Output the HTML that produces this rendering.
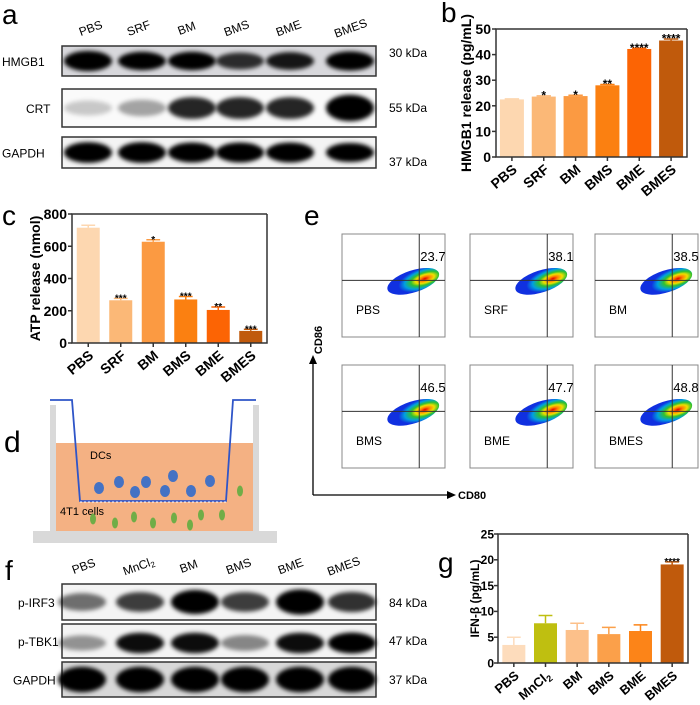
<!DOCTYPE html>
<html><head><meta charset="utf-8"><style>
html,body{margin:0;padding:0;background:#fff}
svg{display:block;font-family:"Liberation Sans",Arial,sans-serif}
</style></head><body>
<svg id="fig" width="700" height="705" viewBox="0 0 700 705" xmlns="http://www.w3.org/2000/svg">
<defs>
<filter id="bl" x="-30%" y="-60%" width="160%" height="220%"><feGaussianBlur stdDeviation="2.2"/></filter>
<radialGradient id="blob" cx="0.72" cy="0.55" r="0.6">
<stop offset="0" stop-color="#e00000"/><stop offset="0.15" stop-color="#ff8000"/><stop offset="0.3" stop-color="#f0e000"/><stop offset="0.45" stop-color="#30c030"/><stop offset="0.65" stop-color="#00a0e0"/><stop offset="0.85" stop-color="#1030e0"/><stop offset="1" stop-color="#1030e0"/>
</radialGradient>
</defs>
<g id="pa"></g>
<g id="pf"></g>
<g id="pb"></g>
<g id="pc"></g>
<g id="pg"></g>
<g id="pe"></g>
<g id="pd">
<text x="4" y="452" font-size="30">d</text>
<rect x="50" y="405" width="6" height="127" fill="#d9d9d9"/>
<rect x="253" y="405" width="6" height="127" fill="#d9d9d9"/>
<rect x="33" y="531" width="244" height="12" fill="#d9d9d9"/>
<rect x="56" y="443" width="197" height="88" fill="#f4b183"/>
<polyline points="50,400 72,400 80,501 226,501 233,400 256,400" fill="none" stroke="#2f55c8" stroke-width="1.8"/>
<line x1="80" y1="502" x2="226" y2="502" stroke="#fff" stroke-width="1" stroke-dasharray="2,2"/>
<text x="90" y="459" font-size="11">DCs</text>
<text x="60" y="515" font-size="11">4T1 cells</text>
</g>
</svg>
<script>
var NS="http://www.w3.org/2000/svg";
function mk(p,t,a,txt){var e=document.createElementNS(NS,t);for(var k in a)e.setAttribute(k,a[k]);if(txt!==undefined)e.textContent=txt;p.appendChild(e);return e;}

var bCats=["PBS","SRF","BM","BMS","BME","BMES"];
var bVals=[22.5,23.6,23.8,28.0,42.2,45.5];
var bErr=[0.2,0.3,0.3,0.3,0.3,0.6];
var bSig=["","*","*","**","****","****"];
var bTicks=[0,10,20,30,40,50];

var cCats=["PBS","SRF","BM","BMS","BME","BMES"];
var cVals=[715,265,628,270,205,75];
var cErr=[15,12,12,18,18,10];
var cSig=["","***","*","***","**","***"];
var cTicks=[0,200,400,600,800];

var gCats=["PBS","MnCl2","BM","BMS","BME","BMES"];
var gVals=[3.5,7.7,6.4,5.6,6.2,19.1];
var gErr=[1.5,1.5,1.3,1.3,1.2,0.5];
var gSig=["","","","","","****"];
var gTicks=[0,5,10,15,20,25];

var flowLabels=["PBS","SRF","BM","BMS","BME","BMES"];
var flowVals=["23.7","38.1","38.5","46.5","47.7","48.8"];

function bars(gid,cfg){
  var g=document.getElementById(gid);
  var x0=cfg.x0,x1=cfg.x1,y0=cfg.y0,y1=cfg.y1,max=cfg.max;
  function ys(v){return y0-(v/max)*(y0-y1);}
  var n=cfg.cats.length,step=(x1-x0)/n;
  function xs(i){return x0+step*(i+0.5);}
  for(var i=0;i<n;i++){
    var v=cfg.vals[i],cx=xs(i),w=cfg.bw;
    var r=mk(g,"rect",{x:cx-w/2,y:ys(v),width:w,height:y0-ys(v),fill:cfg.colors[i]});
    
    
    var ey=ys(v+cfg.err[i]);
    var e=mk(g,"path",{d:"M"+cx+" "+ys(v)+"V"+ey+"M"+(cx-w*0.3)+" "+ey+"H"+(cx+w*0.3),stroke:cfg.colors[i],"stroke-width":1.5,fill:"none"});
    
    
    if(cfg.sig[i]){var s=mk(g,"text",{x:cx,y:ey+cfg.sigSize*0.3,"text-anchor":"middle","font-size":cfg.sigSize,"font-weight":"bold"},cfg.sig[i]);
      
      }
    var tk=mk(g,"line",{x1:cx,x2:cx,y1:y0,y2:y0+4,stroke:"#333","stroke-width":1.5});
    
    
    var lx=cx+6,ly=y0+14;
    var lb=mk(g,"text",{x:lx,y:ly,"text-anchor":"end","font-size":cfg.lab,"font-weight":"bold",transform:"rotate(-40 "+lx+" "+ly+")"});
    
    
    if(cfg.cats[i]=="MnCl2"){lb.textContent="MnCl";mk(lb,"tspan",{"font-size":cfg.lab*0.7,dy:3},"2");}
    else lb.textContent=cfg.cats[i];
  }
  var ax=mk(g,"path",{d:"M"+x1+" "+y1+"H"+x0+"V"+y0+"H"+x1+"V"+y1,fill:"none",stroke:"#333","stroke-width":1.5});
  
  
  cfg.ticks.forEach(function(t){
    var l=mk(g,"line",{x1:x0-4,x2:x0,y1:ys(t),y2:ys(t),stroke:"#333","stroke-width":1.5});
    
    
    var tt=mk(g,"text",{x:x0-cfg.tgap,y:ys(t)+cfg.tick*0.36,"text-anchor":"end","font-size":cfg.tick,"font-weight":"bold"},String(t));
    
    
  });
  var yl=mk(g,"text",{x:cfg.ylx,y:(y0+y1)/2,"text-anchor":"middle","font-size":cfg.ylSize,"font-weight":"bold",transform:"rotate(-90 "+cfg.ylx+" "+((y0+y1)/2)+")"},cfg.ylab);
  
  
  var pl=mk(g,"text",{x:cfg.plx,y:cfg.ply,"font-size":28},cfg.pl);
  
  
}
bars("pb",{cats:bCats,vals:bVals,err:bErr,sig:bSig,ticks:bTicks,max:50,x0:496,x1:687,y0:157,y1:29,bw:24,tgap:5,
  colors:["#fdd7b0","#fbb877","#fb9a42","#fb8011","#fc6404","#c05a0c"],sigSize:12,lab:14,tick:14,ylx:471,ylSize:14,ylab:"HMGB1 release (pg/mL)",pl:"b",plx:441,ply:22});
bars("pc",{cats:cCats,vals:cVals,err:cErr,sig:cSig,ticks:cTicks,max:800,x0:72,x1:267,y0:343,y1:214,bw:23,tgap:5,
  colors:["#fdd7b0","#fbb877","#fb9a42","#fb8011","#fc6404","#c05a0c"],sigSize:10,lab:14,tick:14,ylx:40,ylSize:14,ylab:"ATP release (nmol)",pl:"c",plx:2,ply:225});
bars("pg",{cats:gCats,vals:gVals,err:gErr,sig:gSig,ticks:gTicks,max:25,x0:498,x1:688,y0:663,y1:534,bw:23,tgap:4,
  colors:["#fddcbc","#bfbf10","#fcc08a","#fba04a","#fc8418","#c05a0c"],sigSize:10,lab:13,tick:12,ylx:479,ylSize:12,ylab:"IFN-β (pg/mL)",pl:"g",plx:438,ply:572});

function blot(gid,cfg){
  var g=document.getElementById(gid);
  var pl=mk(g,"text",{x:cfg.plx,y:cfg.ply,"font-size":28},cfg.pl);
  
  
  cfg.lanes.forEach(function(l,i){
    var x=cfg.lx[i],y=cfg.ly;
    var t=mk(g,"text",{x:x,y:y,"text-anchor":"middle","font-size":12,transform:"rotate(-20 "+x+" "+y+")"});
    
    
    if(l=="MnCl2"){t.textContent="MnCl";mk(t,"tspan",{"font-size":8,dy:2},"2");}else t.textContent=l;
  });
  cfg.rows.forEach(function(r){
    var bx=mk(g,"rect",{x:62,y:r.y,width:314,height:r.h,fill:r.bg||"#f4f4f4",stroke:"#333","stroke-width":1.5});
    
    
    r.int.forEach(function(v,i){
      var e=mk(g,"ellipse",{cx:cfg.bx[i],cy:r.y+r.h/2+(r.off||0),rx:24,ry:r.h*0.28*(0.6+0.5*v),fill:"#000","fill-opacity":Math.min(1,v),filter:"url(#bl)"});
      
      
    });
    var n=mk(g,"text",{x:r.nx,y:r.y+r.h/2+5,"font-size":12},r.name);
    
    
    var k=mk(g,"text",{x:389,y:r.ky,"font-size":12},r.kda);
    
    
  });
}
blot("pa",{pl:"a",plx:2,ply:24,lanes:["PBS","SRF","BM","BMS","BME","BMES"],lx:[92,140,188,238,290,352],ly:32,bx:[88,142,192,240,290,350],
 rows:[{name:"HMGB1",y:46,h:30,nx:2,ky:57,kda:"30 kDa",int:[1.2,1,1,0.8,0.9,1.1],bg:"#d8d8dc"},
       {name:"CRT",y:89,h:38,nx:26,ky:112,kda:"55 kDa",int:[0.2,0.35,0.85,0.85,0.85,1.3],bg:"#fafafa"},
       {name:"GAPDH",y:137,h:31,nx:2,ky:166,kda:"37 kDa",int:[1.2,1.2,1.1,1.1,1.1,1]}]});
blot("pf",{pl:"f",plx:5,ply:580,lanes:["PBS","MnCl2","BM","BMS","BME","BMES"],lx:[85,140,190,240,292,345],ly:570,bx:[82,140,195,245,300,352],
 rows:[{name:"p-IRF3",y:584,h:36,nx:18,ky:607,kda:"84 kDa",int:[0.55,0.75,1.2,0.75,1.3,0.8]},
       {name:"p-TBK1",y:624,h:34,nx:18,ky:645,kda:"47 kDa",int:[0.4,0.95,0.95,0.45,0.95,1],off:2},
       {name:"GAPDH",y:662,h:35,nx:13,ky:684,kda:"37 kDa",int:[1.4,1.4,1.4,1.4,1.4,1.4],bg:"#d8d8d8"}]});

(function(){
  var g=document.getElementById("pe");
  var pl=mk(g,"text",{x:304,y:225,"font-size":28},"e");
  
  
  var colX=[342,470,595],rowY=[234,365],W=103,H=103;
  flowLabels.forEach(function(lab,i){
    var x=colX[i%3],y=rowY[Math.floor(i/3)];
    var bx=mk(g,"rect",{x:x,y:y,width:W,height:H,fill:"#fff",stroke:"#888","stroke-width":1});
    
    
    var cx=x+W*0.75,cy=y+H*0.45;
    var bl=mk(g,"ellipse",{cx:cx-6,cy:cy+1,rx:27,ry:11,fill:"url(#blob)",transform:"rotate(-18 "+(cx-6)+" "+(cy+1)+")"});
    
    
    var q=mk(g,"path",{d:"M"+cx+" "+y+"V"+(y+H)+"M"+x+" "+cy+"H"+(x+W),stroke:"#333","stroke-width":1});
    
    
    var v=mk(g,"text",{x:cx+1,y:y+27,"font-size":13},flowVals[i]);
    
    
    var t=mk(g,"text",{x:x+14,y:y+80,"font-size":12},lab);
    
    
  });
  var ax=mk(g,"path",{d:"M313 495V362M313 495H449",stroke:"#000","stroke-width":1.3,fill:"none"});
  
  
  var a1=mk(g,"path",{d:"M309 364L313 355L317 364ZM447 491L456 495L447 499Z",fill:"#000"});
  
  
  var y1=mk(g,"text",{x:322,y:340,"font-size":11,"font-weight":"bold","text-anchor":"middle",transform:"rotate(-90 322 340)"},"CD86");
  
  
  var x1=mk(g,"text",{x:458,y:499,"font-size":11,"font-weight":"bold"},"CD80");
  
  
})();

(function(){
  var g=document.getElementById("pd");
  var blue=[[99,488],[119,482],[135,492],[146,482],[165,491],[173,476],[191,491],[210,481]];
  blue.forEach(function(p){var c=mk(g,"ellipse",{cx:p[0],cy:p[1],rx:5,ry:6,fill:"#4472c4"});
    
    });
  var green=[[93,519],[115,523],[134,517],[153,523],[174,518],[190,525],[201,515],[222,515],[240,491]];
  green.forEach(function(p){var c=mk(g,"ellipse",{cx:p[0],cy:p[1],rx:3,ry:5.5,fill:"#70ad47"});
    
    });
})();
</script>
</body></html>
